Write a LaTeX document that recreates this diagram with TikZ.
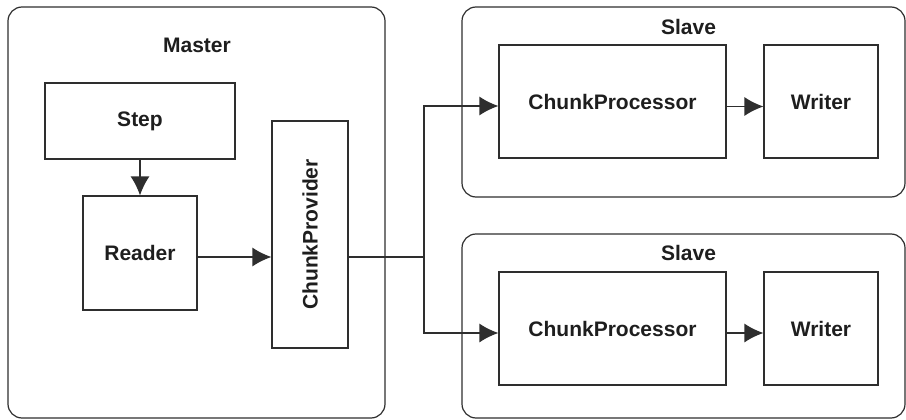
\documentclass[tikz,border=0pt]{standalone}
\usepackage{fontspec}
\setmainfont{Liberation Sans}
\usetikzlibrary{arrows.meta}
\definecolor{ln}{HTML}{2E2E2E}
\definecolor{tx}{HTML}{1E1E1E}
\begin{document}
\begin{tikzpicture}[x=1pt,y=-1pt,
  box/.style={draw=ln,line width=1.2pt,rectangle,inner sep=0pt,anchor=center},
  group/.style={draw=ln,line width=1.2pt,rectangle,rounded corners=14pt,inner sep=0pt,anchor=center},
  lbl/.style={text=tx,font=\fontsize{21}{25}\selectfont\bfseries,inner sep=0pt},
  conn/.style={draw=ln,line width=1.2pt},
  arr/.style={conn,-{Latex[length=19pt,width=19pt]}}]
\useasboundingbox (0,0) rectangle (906,420);
% groups
\node[group,minimum width=377pt,minimum height=411pt] (master) at (196.5,212.5) {};
\node[lbl] (masterlbl) at (197,45) {Master};
\node[group,minimum width=443pt,minimum height=190pt] (slave1) at (683.5,102) {};
\node[lbl] (slave1lbl) at (688.5,27) {Slave};
\node[group,minimum width=443pt,minimum height=184pt] (slave2) at (683.5,326) {};
\node[lbl] (slave2lbl) at (688.5,253) {Slave};
% master content
\node[box,minimum width=190pt,minimum height=76pt] (step) at (140,121) {};
\node[lbl] (steplbl) at (step.center) {Step};
\node[box,minimum width=114pt,minimum height=114pt] (reader) at (140,253) {};
\node[lbl] (readerlbl) at (reader.center) {Reader};
\node[box,minimum width=76pt,minimum height=227pt] (cpv) at (310,234.5) {};
\node[lbl,rotate=90] (cpvlbl) at (cpv.center) {ChunkProvider};
% slave content
\node[box,minimum width=227pt,minimum height=113pt] (cp1) at (612.5,101.5) {};
\node[lbl] (cp1lbl) at (cp1.center) {ChunkProcessor};
\node[box,minimum width=114pt,minimum height=113pt] (w1) at (821,101.5) {};
\node[lbl] (w1lbl) at (w1.center) {Writer};
\node[box,minimum width=227pt,minimum height=113pt] (cp2) at (612.5,328.5) {};
\node[lbl] (cp2lbl) at (cp2.center) {ChunkProcessor};
\node[box,minimum width=114pt,minimum height=113pt] (w2) at (821,328.5) {};
\node[lbl] (w2lbl) at (w2.center) {Writer};
% connectors
\coordinate (j) at (424,257);
\draw[arr] (step.south) -- (reader.north);
\draw[arr] (reader.east |- j) -- (cpv.west |- j);
\draw[conn] (cpv.east |- j) -- (j);
\draw[arr] (j) |- ([yshift=-4.5pt]cp1.west);
\draw[arr] (j) |- ([yshift=-4.5pt]cp2.west);
\draw[arr] ([yshift=-5pt]cp1.east) -- ([yshift=-5pt]w1.west);
\draw[arr] ([yshift=-4.5pt]cp2.east) -- ([yshift=-4.5pt]w2.west);
\end{tikzpicture}
\end{document}
